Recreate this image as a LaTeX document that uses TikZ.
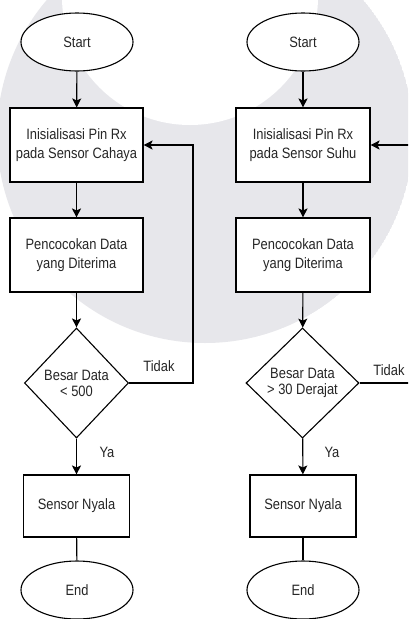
\documentclass[tikz,border=0pt]{standalone}
\usepackage{fontspec}
\setmainfont{Liberation Sans}[FakeStretch=0.86]
\usetikzlibrary{shapes.geometric,arrows.meta}
\definecolor{wm}{RGB}{231,231,235}
\definecolor{txt}{RGB}{38,38,38}
\begin{document}
\begin{tikzpicture}[x=1pt,y=-1pt,
  base/.style={draw=black, line width=1.1pt, fill=white, text=txt,
    font=\fontsize{15pt}{19pt}\selectfont, align=center, inner sep=0pt},
  term/.style={base, ellipse, minimum width=112pt, minimum height=58pt},
  proc/.style={base, rectangle, minimum width=133pt, minimum height=74pt},
  small/.style={base, rectangle, minimum width=106pt, minimum height=62pt},
  dec/.style={base, diamond, minimum height=110pt,
    font=\fontsize{15pt}{16pt}\selectfont},
  lab/.style={text=txt, font=\fontsize{15pt}{18pt}\selectfont, inner sep=0pt},
  arr/.style={draw=black, line width=1.1pt, -{Stealth[length=9pt,width=9pt,inset=2pt]}},
  ln/.style={draw=black, line width=1.1pt}]
\useasboundingbox (0,0) rectangle (408,619);
\clip (0,0) rectangle (408,619);
\fill[white] (0,0) rectangle (408,619);
% watermark
\begin{scope}
\clip (205,135) circle[radius=208];
\fill[wm] (205,135) circle[radius=208];
\fill[white] (190,-3) circle[radius=128];
\end{scope}
% left flow
\node[term] (sl) at (77,42) {Start};
\node[proc] (b1l) at (76.5,145) {Inisialisasi Pin Rx\\pada Sensor Cahaya};
\node[proc] (b2l) at (76.5,255) {Pencocokan Data\\yang Diterima};
\node[dec, minimum width=104pt] (dl) at (76.5,383) {Besar Data\\< 500};
\node[small] (b3l) at (76.5,506) {Sensor Nyala};
\node[term] (el) at (77,590) {End};
\coordinate (fl) at (193,0);
\draw[arr] (sl) -- (b1l);
\draw[arr] (b1l) -- (b2l);
\draw[arr] (b2l) -- (dl);
\draw[arr] (dl) -- (b3l);
\draw[ln] (b3l) -- (el);
\draw[arr] (dl.east) -- (dl.east -| fl) -- (b1l.east -| fl) -- (b1l.east);
\node[lab] (tl) at (159,366) {Tidak};
\node[lab] (yl) at (107,452) {Ya};
% right flow
\node[term] (sr) at (303,42) {Start};
\node[proc, minimum width=134pt] (b1r) at (303,145) {Inisialisasi Pin Rx\\pada Sensor Suhu};
\node[proc, minimum width=134pt] (b2r) at (303,255) {Pencocokan Data\\yang Diterima};
\node[dec, minimum width=113pt] (dr) at (302.5,383) {Besar Data\\> 30 Derajat};
\node[small] (b3r) at (303,506) {Sensor Nyala};
\node[term] (er) at (303,590) {End};
\coordinate (fr) at (420,0);
\draw[arr] (sr) -- (b1r);
\draw[arr] (b1r) -- (b2r);
\draw[arr] (b2r) -- (dr);
\draw[arr] (dr) -- (b3r);
\draw[ln] (b3r) -- (er);
\draw[arr] (dr.east) -- (dr.east -| fr) -- (b1r.east -| fr) -- (b1r.east);
\node[lab] (tr) at (389,370) {Tidak};
\node[lab] (yr) at (332,452) {Ya};
\end{tikzpicture}
\end{document}
